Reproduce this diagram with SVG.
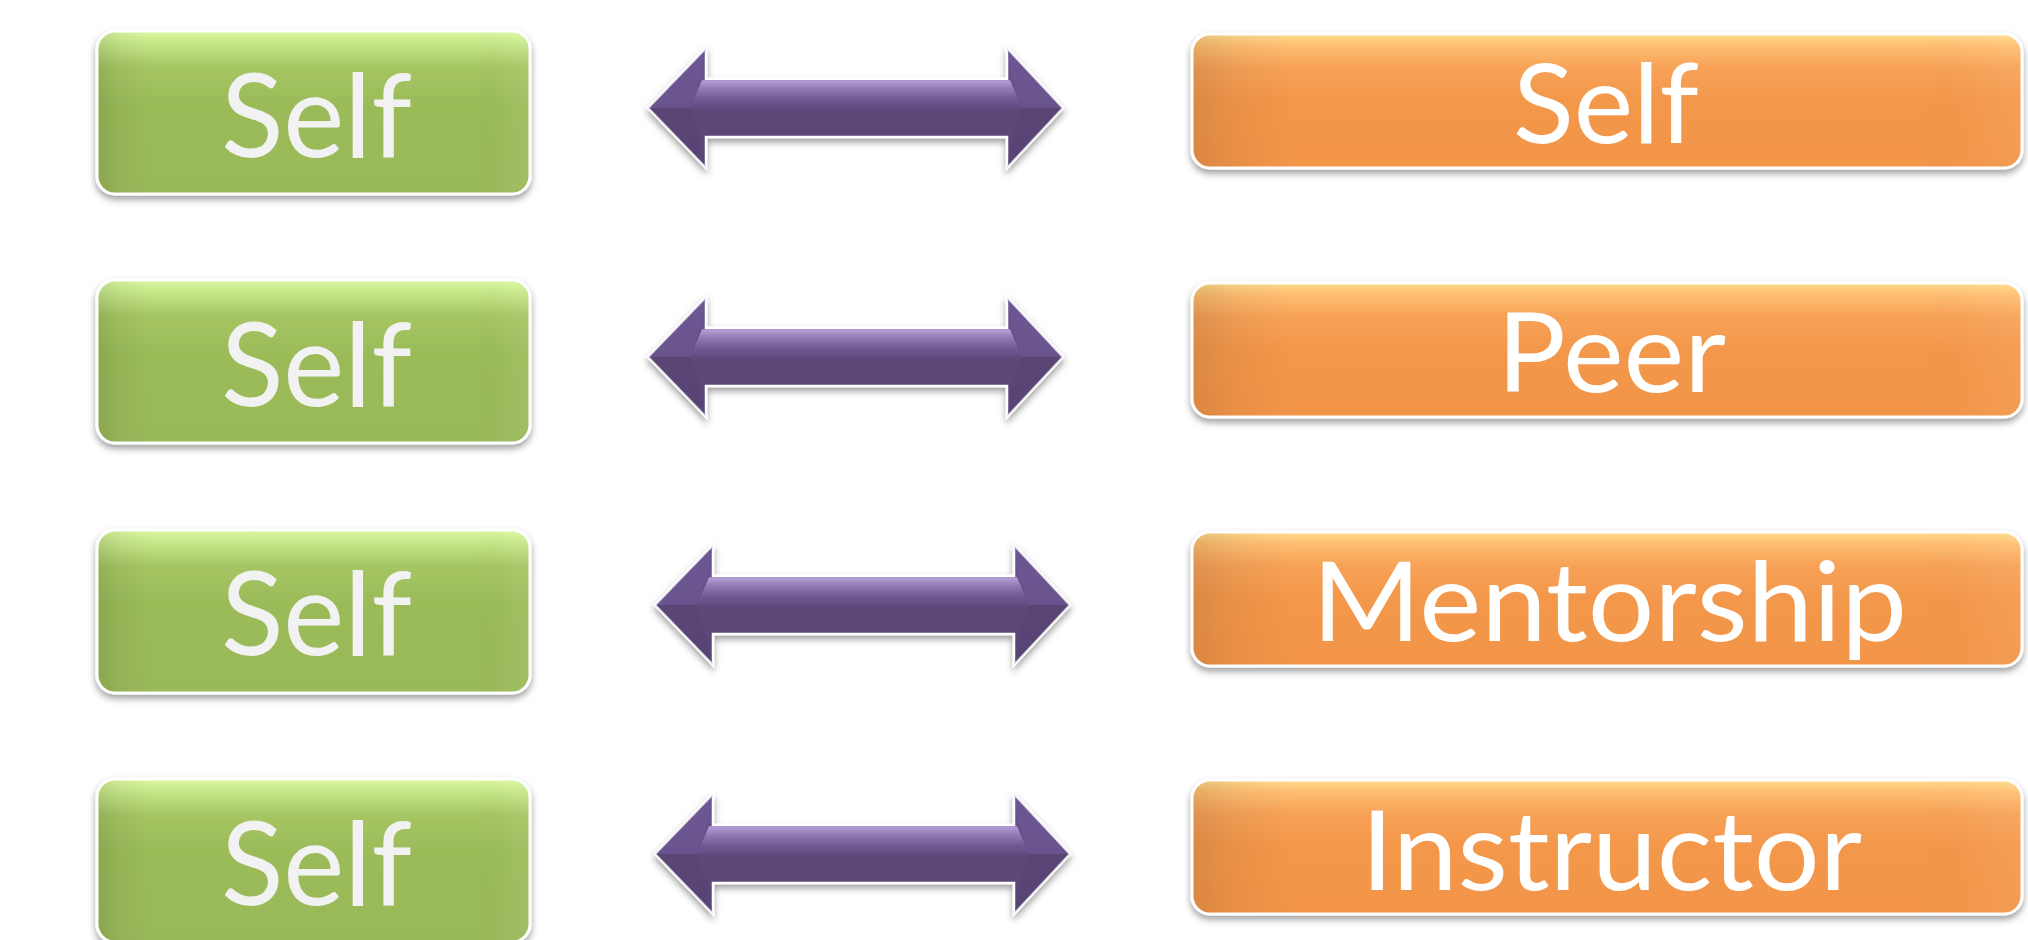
<svg xmlns="http://www.w3.org/2000/svg" xmlns:xlink="http://www.w3.org/1999/xlink" width="2028" height="940" viewBox="0 0 2028 940">
  <defs>
    <style>
      .gbox { fill: url(#gGrad); stroke: #ffffff; stroke-width: 3; filter: url(#shadow); }
      .obox { fill: url(#oGrad); stroke: #ffffff; stroke-width: 3; filter: url(#shadow); }
      .side { fill: url(#sideShade); stroke: none; }
      .gtxt { font-family: Lato, "Open Sans", "Liberation Sans", sans-serif; font-size: 117px; fill: #f2f2f2; }
      .otxt { font-family: Lato, "Open Sans", "Liberation Sans", sans-serif; font-size: 110px; fill: #ffffff; }
      .arrowBody { fill: url(#aGrad); stroke: #ffffff; stroke-width: 2.5; stroke-linejoin: miter; }
    </style>
    <filter id="shadow" x="-10%" y="-20%" width="120%" height="150%">
      <feDropShadow dx="0" dy="4" stdDeviation="3.5" flood-color="#000000" flood-opacity="0.38"/>
    </filter>
    <linearGradient id="gGrad" x1="0" y1="0" x2="0" y2="1">
      <stop offset="0" stop-color="#dcf8a2"/>
      <stop offset="0.07" stop-color="#c8e88a"/>
      <stop offset="0.22" stop-color="#a6c563"/>
      <stop offset="0.45" stop-color="#9bbb59"/>
      <stop offset="1" stop-color="#9ab95a"/>
    </linearGradient>
    <linearGradient id="oGrad" x1="0" y1="0" x2="0" y2="1">
      <stop offset="0" stop-color="#ffdc8e"/>
      <stop offset="0.08" stop-color="#ffc072"/>
      <stop offset="0.25" stop-color="#f7a257"/>
      <stop offset="0.5" stop-color="#f3974b"/>
      <stop offset="1" stop-color="#f29548"/>
    </linearGradient>
    <linearGradient id="sideShade" x1="0" y1="0" x2="1" y2="0">
      <stop offset="0" stop-color="#000000" stop-opacity="0.10"/>
      <stop offset="0.05" stop-color="#000000" stop-opacity="0.04"/>
      <stop offset="0.12" stop-color="#000000" stop-opacity="0"/>
      <stop offset="0.88" stop-color="#000000" stop-opacity="0"/>
      <stop offset="0.95" stop-color="#ffffff" stop-opacity="0.03"/>
      <stop offset="1" stop-color="#ffffff" stop-opacity="0.06"/>
    </linearGradient>
    <linearGradient id="aGrad" x1="0" y1="0" x2="0" y2="1">
      <stop offset="0" stop-color="#6b5490"/>
      <stop offset="0.5" stop-color="#654e88"/>
      <stop offset="0.5" stop-color="#5d4879"/>
      <stop offset="1" stop-color="#5b4676"/>
    </linearGradient>
    <linearGradient id="shaftHi" x1="0" y1="0" x2="0" y2="1">
      <stop offset="0" stop-color="#b7a2d8"/>
      <stop offset="0.3" stop-color="#937bb6"/>
      <stop offset="0.7" stop-color="#705992"/>
      <stop offset="1" stop-color="#624c80"/>
    </linearGradient>
    <g id="dblArrow">
      <polygon class="arrowBody" points="0,0 58,-60 58,-29 359,-29 359,-60 415,0 359,60 359,29 58,29 58,60"/>
      <polygon points="0,0 58,-60 52,-29 42,0" fill="#7862a0" fill-opacity="0.25"/>
      <polygon points="0,0 42,0 52,29 58,60" fill="#4f3c69" fill-opacity="0.2"/>
      <polygon points="415,0 359,-60 364,-29 374,0" fill="#7862a0" fill-opacity="0.25"/>
      <polygon points="415,0 374,0 364,29 359,60" fill="#4f3c69" fill-opacity="0.2"/>
      <polygon points="54,-27.8 362,-27.8 374,0 42,0" fill="url(#shaftHi)"/>
    </g>
  </defs>

  <rect x="0" y="0" width="2028" height="940" fill="#ffffff"/>

  <!-- Left nodes -->
  <g id="left1">
    <rect class="gbox" x="97" y="31" width="433" height="163" rx="18"/>
    <rect class="side" x="98.5" y="32.5" width="430" height="160" rx="17"/>
    <text class="gtxt" x="221" y="157" textLength="191" lengthAdjust="spacingAndGlyphs">Self</text>
  </g>
  <g id="left2">
    <rect class="gbox" x="97" y="280" width="433" height="163" rx="18"/>
    <rect class="side" x="98.5" y="281.5" width="430" height="160" rx="17"/>
    <text class="gtxt" x="221" y="406" textLength="191" lengthAdjust="spacingAndGlyphs">Self</text>
  </g>
  <g id="left3">
    <rect class="gbox" x="97" y="530" width="433" height="163" rx="18"/>
    <rect class="side" x="98.5" y="531.5" width="430" height="160" rx="17"/>
    <text class="gtxt" x="221" y="655" textLength="191" lengthAdjust="spacingAndGlyphs">Self</text>
  </g>
  <g id="left4">
    <rect class="gbox" x="97" y="779" width="433" height="163" rx="18"/>
    <rect class="side" x="98.5" y="780.5" width="430" height="160" rx="17"/>
    <text class="gtxt" x="221" y="905" textLength="191" lengthAdjust="spacingAndGlyphs">Self</text>
  </g>

  <!-- Right nodes -->
  <g id="right1">
    <rect class="obox" x="1192" y="34" width="830" height="134" rx="18"/>
    <rect class="side" x="1193.5" y="35.5" width="827" height="131" rx="17"/>
    <text class="otxt" x="1513" y="143" textLength="186" lengthAdjust="spacingAndGlyphs">Self</text>
  </g>
  <g id="right2">
    <rect class="obox" x="1192" y="283" width="830" height="134" rx="18"/>
    <rect class="side" x="1193.5" y="284.5" width="827" height="131" rx="17"/>
    <text class="otxt" x="1497" y="392" textLength="229" lengthAdjust="spacingAndGlyphs">Peer</text>
  </g>
  <g id="right3">
    <rect class="obox" x="1192" y="532" width="830" height="134" rx="18"/>
    <rect class="side" x="1193.5" y="533.5" width="827" height="131" rx="17"/>
    <text class="otxt" x="1312" y="641" textLength="595" lengthAdjust="spacingAndGlyphs">Mentorship</text>
  </g>
  <g id="right4">
    <rect class="obox" x="1192" y="780" width="830" height="134" rx="18"/>
    <rect class="side" x="1193.5" y="781.5" width="827" height="131" rx="17"/>
    <text class="otxt" x="1361" y="890" textLength="501" lengthAdjust="spacingAndGlyphs">Instructor</text>
  </g>

  <!-- Connectors -->
  <g id="connectors" filter="url(#shadow)">
    <use xlink:href="#dblArrow" href="#dblArrow" transform="translate(648,108)"/>
    <use xlink:href="#dblArrow" href="#dblArrow" transform="translate(648,357)"/>
    <use xlink:href="#dblArrow" href="#dblArrow" transform="translate(655,605)"/>
    <use xlink:href="#dblArrow" href="#dblArrow" transform="translate(655,854)"/>
  </g>
</svg>
